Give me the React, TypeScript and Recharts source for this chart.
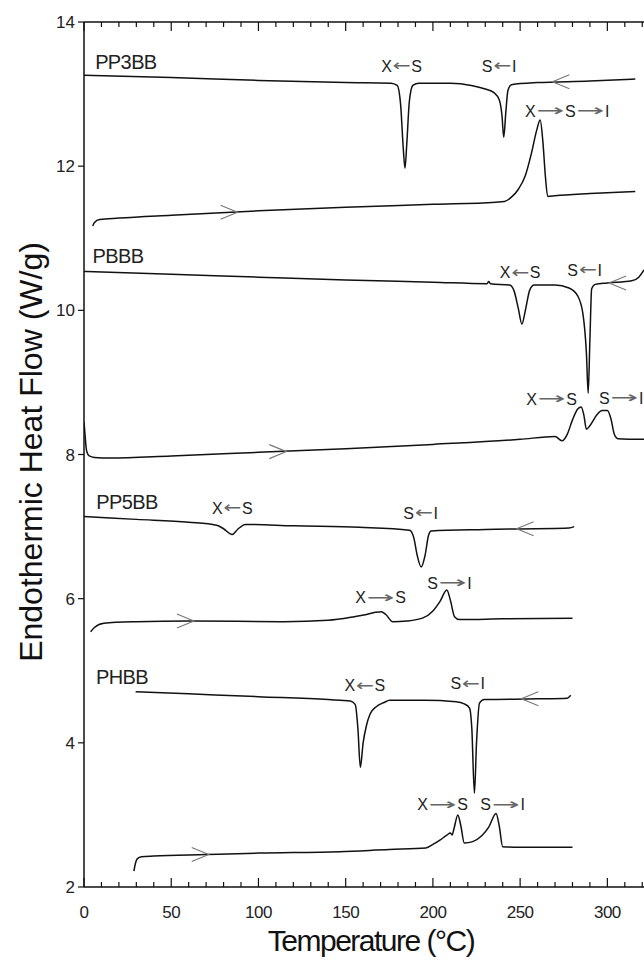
import React from 'react';
import { LineChart, Line, XAxis, YAxis, ReferenceLine, ReferenceDot, Label } from 'recharts';

const FONT = '"Liberation Sans", Arial, Helvetica, sans-serif';
const PLOT_TOP = 22;

// tick positions
const xTicks = [0, 10, 20, 30, 40, 50, 60, 70, 80, 90, 100, 110, 120, 130, 140, 150, 160, 170, 180, 190, 200, 210, 220, 230, 240, 250, 260, 270, 280, 290, 300, 310, 320];
const xLabels = [0, 50, 100, 150, 200, 250, 300];
const yTicks = [2, 4, 6, 8, 10, 12, 14];

// PP3BB cooling / heating
const pp3Cool = [
  { x: 0, y: 13.26 }, { x: 50, y: 13.23 }, { x: 100, y: 13.19 }, { x: 150, y: 13.16 },
  { x: 176, y: 13.15 }, { x: 179.5, y: 13.12 }, { x: 181.5, y: 12.85 }, { x: 183, y: 12.25 },
  { x: 184, y: 11.97 }, { x: 185, y: 12.3 }, { x: 186.5, y: 12.9 }, { x: 188.5, y: 13.12 },
  { x: 192, y: 13.15 }, { x: 210, y: 13.15 }, { x: 222, y: 13.12 }, { x: 230, y: 13.07 },
  { x: 235, y: 13.02 }, { x: 238, y: 12.92 }, { x: 239.6, y: 12.7 }, { x: 240.6, y: 12.4 },
  { x: 241.8, y: 12.75 }, { x: 243, y: 13.05 }, { x: 245, y: 13.13 }, { x: 260, y: 13.16 },
  { x: 290, y: 13.18 }, { x: 316, y: 13.21 },
];
const pp3Heat = [
  { x: 5, y: 11.17 }, { x: 6, y: 11.22 }, { x: 9, y: 11.26 }, { x: 20, y: 11.28 },
  { x: 50, y: 11.32 }, { x: 100, y: 11.38 }, { x: 150, y: 11.43 }, { x: 200, y: 11.47 },
  { x: 236, y: 11.5 }, { x: 241, y: 11.51 }, { x: 245, y: 11.57 }, { x: 249, y: 11.68 },
  { x: 253, y: 11.87 }, { x: 256.5, y: 12.18 }, { x: 259.5, y: 12.5 }, { x: 261.5, y: 12.64 },
  { x: 263, y: 12.35 }, { x: 264.5, y: 11.85 }, { x: 265.8, y: 11.58 }, { x: 270, y: 11.59 },
  { x: 290, y: 11.62 }, { x: 316, y: 11.65 },
];

// PBBB cooling / heating
const pbCool = [
  { x: 0, y: 10.54 }, { x: 50, y: 10.5 }, { x: 100, y: 10.46 }, { x: 150, y: 10.42 },
  { x: 200, y: 10.39 }, { x: 231, y: 10.37 }, { x: 232, y: 10.4 }, { x: 233, y: 10.37 },
  { x: 244, y: 10.35 }, { x: 246.5, y: 10.27 }, { x: 249, y: 10.02 }, { x: 251, y: 9.81 },
  { x: 253, y: 10.0 }, { x: 255.5, y: 10.28 }, { x: 258, y: 10.35 }, { x: 270, y: 10.35 },
  { x: 278, y: 10.31 }, { x: 283, y: 10.2 }, { x: 286, y: 9.95 }, { x: 288, y: 9.4 },
  { x: 289, y: 8.85 }, { x: 290, y: 9.6 }, { x: 291, y: 10.3 }, { x: 293, y: 10.36 },
  { x: 300, y: 10.38 }, { x: 314, y: 10.41 }, { x: 318, y: 10.46 }, { x: 321, y: 10.56 },
];
const pbHeat = [
  { x: 0, y: 8.45 }, { x: 0.5, y: 8.3 }, { x: 1.5, y: 8.05 }, { x: 3, y: 7.98 },
  { x: 6, y: 7.96 }, { x: 15, y: 7.95 }, { x: 50, y: 7.98 }, { x: 100, y: 8.03 },
  { x: 150, y: 8.08 }, { x: 200, y: 8.14 }, { x: 250, y: 8.21 }, { x: 270, y: 8.25 },
  { x: 274, y: 8.19 }, { x: 277, y: 8.28 }, { x: 280, y: 8.48 }, { x: 283, y: 8.63 },
  { x: 285, y: 8.66 }, { x: 286.5, y: 8.55 }, { x: 288, y: 8.35 }, { x: 290, y: 8.4 },
  { x: 294, y: 8.55 }, { x: 297, y: 8.61 }, { x: 300, y: 8.61 }, { x: 302, y: 8.5 },
  { x: 304, y: 8.28 }, { x: 306, y: 8.22 }, { x: 321, y: 8.21 },
];

// PP5BB cooling / heating
const pp5Cool = [
  { x: 0, y: 7.14 }, { x: 30, y: 7.1 }, { x: 60, y: 7.06 }, { x: 76, y: 7.02 },
  { x: 80, y: 6.97 }, { x: 84.9, y: 6.89 }, { x: 88, y: 6.96 }, { x: 92.5, y: 7.03 },
  { x: 120, y: 7.01 }, { x: 158, y: 6.99 }, { x: 186.6, y: 6.95 }, { x: 189, y: 6.85 },
  { x: 191, y: 6.6 }, { x: 193.3, y: 6.44 }, { x: 195.5, y: 6.6 }, { x: 197.5, y: 6.88 },
  { x: 199, y: 6.94 }, { x: 230, y: 6.96 }, { x: 278, y: 6.98 }, { x: 281, y: 7.0 },
];
const pp5Heat = [
  { x: 3.8, y: 5.54 }, { x: 6, y: 5.6 }, { x: 11.4, y: 5.66 }, { x: 30, y: 5.68 },
  { x: 60, y: 5.69 }, { x: 114.5, y: 5.68 }, { x: 140, y: 5.7 }, { x: 155, y: 5.75 },
  { x: 162, y: 5.78 }, { x: 167, y: 5.81 }, { x: 170.4, y: 5.82 }, { x: 173, y: 5.78 },
  { x: 177, y: 5.68 }, { x: 185, y: 5.69 }, { x: 194, y: 5.73 }, { x: 200, y: 5.83 },
  { x: 204, y: 5.96 }, { x: 208, y: 6.12 }, { x: 210, y: 5.98 }, { x: 212.4, y: 5.75 },
  { x: 215.2, y: 5.71 }, { x: 240, y: 5.72 }, { x: 280, y: 5.73 },
];

// PHBB cooling / heating
const phCool = [
  { x: 29.6, y: 4.71 }, { x: 60, y: 4.68 }, { x: 100, y: 4.64 }, { x: 140, y: 4.6 },
  { x: 152.7, y: 4.58 }, { x: 155.5, y: 4.53 }, { x: 157, y: 4.2 }, { x: 158.4, y: 3.66 },
  { x: 160, y: 4.0 }, { x: 161.8, y: 4.23 }, { x: 164, y: 4.4 }, { x: 167.5, y: 4.5 },
  { x: 172, y: 4.56 }, { x: 175.2, y: 4.59 }, { x: 195, y: 4.59 }, { x: 213.3, y: 4.57 },
  { x: 218, y: 4.54 }, { x: 221, y: 4.48 }, { x: 222.3, y: 4.2 }, { x: 223.8, y: 3.3 },
  { x: 225, y: 4.0 }, { x: 226.7, y: 4.55 }, { x: 229.5, y: 4.6 }, { x: 260, y: 4.61 },
  { x: 277, y: 4.62 }, { x: 279, y: 4.66 },
];
const phHeat = [
  { x: 28.6, y: 2.22 }, { x: 29.5, y: 2.33 }, { x: 30.5, y: 2.39 }, { x: 33, y: 2.42 },
  { x: 40, y: 2.43 }, { x: 70, y: 2.45 }, { x: 100, y: 2.47 }, { x: 146.5, y: 2.49 },
  { x: 175, y: 2.52 }, { x: 196, y: 2.54 }, { x: 200, y: 2.59 }, { x: 204, y: 2.65 },
  { x: 208, y: 2.72 }, { x: 210, y: 2.75 }, { x: 211, y: 2.72 }, { x: 212, y: 2.8 },
  { x: 214.3, y: 3.0 }, { x: 216, y: 2.85 }, { x: 218, y: 2.61 }, { x: 222.8, y: 2.63 },
  { x: 228, y: 2.71 }, { x: 232, y: 2.83 }, { x: 236.2, y: 3.02 }, { x: 238, y: 2.85 },
  { x: 240, y: 2.56 }, { x: 250, y: 2.55 }, { x: 280, y: 2.55 },
];

const curves = [pp3Cool, pp3Heat, pbCool, pbHeat, pp5Cool, pp5Heat, phCool, phHeat];

// direction arrows sitting on the curves
const coolArrows = [
  { x: 268.5, y: 13.17 }, { x: 301, y: 10.38 }, { x: 248, y: 6.97 }, { x: 250.7, y: 4.61 },
];
const heatArrows = [
  { x: 88, y: 11.36 }, { x: 116, y: 8.04 }, { x: 63, y: 5.69 }, { x: 71.5, y: 2.45 },
];

// sample names
const names = [
  { x: 24, y: 13.45, text: 'PP3BB' },
  { x: 19.5, y: 10.75, text: 'PBBB' },
  { x: 24.6, y: 7.34, text: 'PP5BB' },
  { x: 21.8, y: 4.92, text: 'PHBB' },
];

// transition labels
const transitions = [
  { x: 182, y: 13.39, text: 'X←S' },
  { x: 238, y: 13.39, text: 'S←I' },
  { x: 277, y: 12.77, text: 'X→S→I' },
  { x: 250, y: 10.53, text: 'X←S' },
  { x: 287, y: 10.56, text: 'S←I' },
  { x: 268, y: 8.77, text: 'X→S' },
  { x: 308, y: 8.79, text: 'S→I' },
  { x: 85, y: 7.26, text: 'X←S' },
  { x: 193, y: 7.19, text: 'S←I' },
  { x: 170, y: 6.02, text: 'X→S' },
  { x: 209.5, y: 6.22, text: 'S→I' },
  { x: 161, y: 4.8, text: 'X←S' },
  { x: 220, y: 4.83, text: 'S←I' },
  { x: 205.5, y: 3.15, text: 'X→S' },
  { x: 240, y: 3.15, text: 'S→I' },
];

const charW: Record<string, number> = { X: 11, S: 11, I: 5, '←': 19, '→': 29 };
const ARROW_ADV = 16 * 0.838; // DejaVu Sans arrow advance at 16px

function TransitionLabel(props: any) {
  const { cx, cy, text } = props;
  const chars = Array.from(text as string);
  const total = chars.reduce((s, c) => s + (charW[c] || 10), 0);
  let pos = cx - total / 2;
  return (
    <g>
      {chars.map((c, i) => {
        const w = charW[c] || 10;
        const start = pos;
        pos += w;
        if (c === '←' || c === '→') {
          const sx = (w - 1) / ARROW_ADV;
          return (
            <text key={i} x={0} y={0} transform={`translate(${start + 0.5},${cy + 5.5}) scale(${sx},1)`}
              fontSize={16} fontFamily='"DejaVu Sans", sans-serif' fill="#666">
              {c}
            </text>
          );
        }
        return (
          <text key={i} x={start + w / 2} y={cy + 6} fontSize={16} fontFamily={FONT} fill="#222" textAnchor="middle">
            {c}
          </text>
        );
      })}
    </g>
  );
}

function NameLabel(props: any) {
  const { cx, cy, text } = props;
  return (
    <text x={cx} y={cy + 7} fontSize={20} fontFamily={FONT} fill="#222" textAnchor="middle" letterSpacing={-0.6}>
      {text}
    </text>
  );
}

function Chevron(props: any) {
  const { cx, cy, dir } = props;
  const s = dir === 'left' ? 1 : -1;
  return (
    <path d={`M${cx + s * 17},${cy - 7} L${cx},${cy} L${cx + s * 17},${cy + 7}`} fill="none" stroke="#777" strokeWidth={1.1} />
  );
}

function XTick(props: any) {
  const { x, y, payload } = props;
  const v = payload.value;
  const major = xLabels.includes(v);
  const len = major ? 9 : 5;
  return (
    <g>
      <line x1={x} x2={x} y1={y} y2={y - len} stroke="#111" strokeWidth={1.2} />
      <line x1={x} x2={x} y1={PLOT_TOP} y2={PLOT_TOP + len} stroke="#111" strokeWidth={1.2} />
      {major && (
        <text x={x} y={y + 31} textAnchor="middle" fontSize={17} fontFamily={FONT} fill="#222" letterSpacing={-0.5}>
          {v}
        </text>
      )}
    </g>
  );
}

export default function App() {
  return (
    <div style={{ position: 'absolute', left: 0, top: 0, width: 644, height: 960, background: '#fff' }}>
      <LineChart width={644} height={960} margin={{ top: PLOT_TOP, right: 0, bottom: 0, left: 0 }}>
        <XAxis
          xAxisId="b"
          type="number"
          dataKey="x"
          domain={[0, 321]}
          allowDataOverflow
          ticks={xTicks}
          interval={0}
          tick={<XTick />}
          tickLine={false}
          tickSize={0}
          tickMargin={0}
          height={73}
          axisLine={{ stroke: '#111', strokeWidth: 1.5 }}
        >
          <Label
            content={() => (
              <text x={371} y={951} textAnchor="middle" fontSize={30} fontFamily={FONT} fill="#111" letterSpacing={-1.5}>
                Temperature (°C)
              </text>
            )}
          />
        </XAxis>
        <YAxis
          type="number"
          domain={[2, 14]}
          allowDataOverflow
          ticks={yTicks}
          interval={0}
          width={84}
          tickSize={6}
          tickMargin={3}
          tick={{ fontSize: 17, fill: '#222', fontFamily: FONT }}
          tickLine={{ stroke: '#111', strokeWidth: 1.2 }}
          axisLine={{ stroke: '#111', strokeWidth: 1.5 }}
        >
          <Label
            content={() => (
              <text x={42} y={452} transform="rotate(-90 42 452)" textAnchor="middle" fontSize={32} fontFamily={FONT} fill="#111">
                Endothermic Heat Flow (W/g)
              </text>
            )}
          />
        </YAxis>
        <ReferenceLine xAxisId="b" y={14} stroke="#111" strokeWidth={1.5} />
        {curves.map((c, i) => (
          <Line
            key={i}
            xAxisId="b"
            data={c}
            dataKey="y"
            type="monotone"
            stroke="#111"
            strokeWidth={1.5}
            dot={false}
            activeDot={false}
            isAnimationActive={false}
          />
        ))}
        {coolArrows.map((a, i) => (
          <ReferenceDot key={'c' + i} xAxisId="b" x={a.x} y={a.y} r={0} shape={(p: any) => <Chevron {...p} dir="left" />} />
        ))}
        {heatArrows.map((a, i) => (
          <ReferenceDot key={'h' + i} xAxisId="b" x={a.x} y={a.y} r={0} shape={(p: any) => <Chevron {...p} dir="right" />} />
        ))}
        {names.map((n, i) => (
          <ReferenceDot key={'n' + i} xAxisId="b" x={n.x} y={n.y} r={0} shape={(p: any) => <NameLabel {...p} text={n.text} />} />
        ))}
        {transitions.map((t, i) => (
          <ReferenceDot key={'t' + i} xAxisId="b" x={t.x} y={t.y} r={0} shape={(p: any) => <TransitionLabel {...p} text={t.text} />} />
        ))}
      </LineChart>
    </div>
  );
}
